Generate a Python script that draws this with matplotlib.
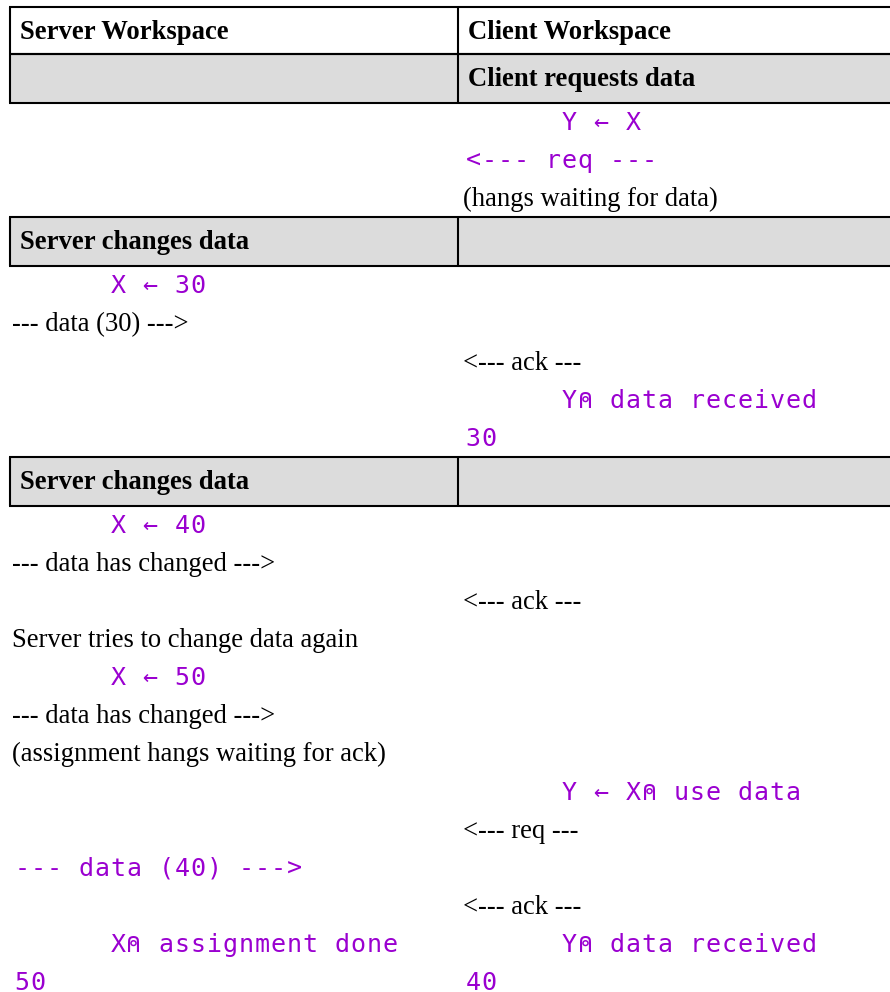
import matplotlib
matplotlib.use("Agg")
import matplotlib.pyplot as plt
from matplotlib.patches import Rectangle

# ---- content ----
col_headers = ["Server Workspace", "Client Workspace"]

# each row: (kind, server_cell, client_cell); a cell is (text, style) or None
rows = [
    ("band", None, ("Client requests data", "head")),
    ("line", None, ("      Y ← X", "code")),
    ("line", None, ("<--- req ---", "code")),
    ("line", None, ("(hangs waiting for data)", "text")),
    ("band", ("Server changes data", "head"), None),
    ("line", ("      X ← 30", "code"), None),
    ("line", ("--- data (30) --->", "text"), None),
    ("line", None, ("<--- ack ---", "text")),
    ("line", None, ("      Y⍝ data received", "code")),
    ("line", None, ("30", "code")),
    ("band", ("Server changes data", "head"), None),
    ("line", ("      X ← 40", "code"), None),
    ("line", ("--- data has changed --->", "text"), None),
    ("line", None, ("<--- ack ---", "text")),
    ("line", ("Server tries to change data again", "text"), None),
    ("line", ("      X ← 50", "code"), None),
    ("line", ("--- data has changed --->", "text"), None),
    ("line", ("(assignment hangs waiting for ack)", "text"), None),
    ("line", None, ("      Y ← X⍝ use data", "code")),
    ("line", None, ("<--- req ---", "text")),
    ("line", ("--- data (40) --->", "code"), None),
    ("line", None, ("<--- ack ---", "text")),
    ("line", ("      X⍝ assignment done", "code"), ("      Y⍝ data received", "code")),
    ("line", ("50", "code"), ("40", "code")),
]

# ---- layout / style ----
W, H = 890, 992
X_LEFT, X_DIV, X_RIGHT = 10, 458, 890
TOP = 7
HEAD_H = 47
BAND_H = 49
LINE_H = 38.1
BAND_BASE = 32
LINE_BASE = 27
PURPLE = "#9A00D0"
GRAY = "#DCDCDC"
LW = 1.5
CODE_ADV = 16.0  # monospace cell width in pixels

styles = {
    "head": dict(family=["Liberation Serif", "DejaVu Serif"], weight="bold", size=19.2, color="black"),
    "text": dict(family=["Liberation Serif", "DejaVu Serif"], size=19.2, color="black"),
    "code": dict(family=["DejaVu Sans Mono"], size=18, color=PURPLE),
}
text_x = {"head": (20, 468), "text": (12, 463), "code": (14, 465)}

fig = plt.figure(figsize=(W / 100, H / 100), dpi=100)
ax = fig.add_axes([0, 0, 1, 1])
ax.set_xlim(0, W)
ax.set_ylim(H, 0)
ax.axis("off")


def draw_box(y0, h, face):
    ax.add_patch(Rectangle((X_LEFT, y0), X_RIGHT - X_LEFT, h, facecolor=face, edgecolor="none", zorder=1))
    for yy in (y0, y0 + h):
        ax.plot([X_LEFT - 1, X_RIGHT + 5], [yy, yy], color="black", lw=LW, solid_capstyle="butt", zorder=3, clip_on=False)
    for xx in (X_LEFT, X_DIV):
        ax.plot([xx, xx], [y0, y0 + h], color="black", lw=LW, solid_capstyle="butt", zorder=3)


def put(cell, col, ybase):
    if cell is None:
        return
    txt, st = cell
    x0 = text_x[st][col]
    if st == "code":
        # fixed-pitch cells, glyphs centred in each cell (APL-style session font)
        for i, ch in enumerate(txt):
            if ch != " ":
                ax.text(x0 + (i + 0.5) * CODE_ADV, ybase, ch, va="baseline", ha="center", zorder=4, **styles[st])
    else:
        ax.text(x0, ybase, txt, va="baseline", ha="left", zorder=4, **styles[st])


# header
draw_box(TOP, HEAD_H, "white")
for col, h in enumerate(col_headers):
    put((h, "head"), col, TOP + BAND_BASE)

y = TOP + HEAD_H
for kind, s_cell, c_cell in rows:
    if kind == "band":
        draw_box(y, BAND_H, GRAY)
        put(s_cell, 0, y + BAND_BASE)
        put(c_cell, 1, y + BAND_BASE)
        y += BAND_H
    else:
        put(s_cell, 0, y + LINE_BASE)
        put(c_cell, 1, y + LINE_BASE)
        y += LINE_H

fig.savefig("out.png", dpi=100)
